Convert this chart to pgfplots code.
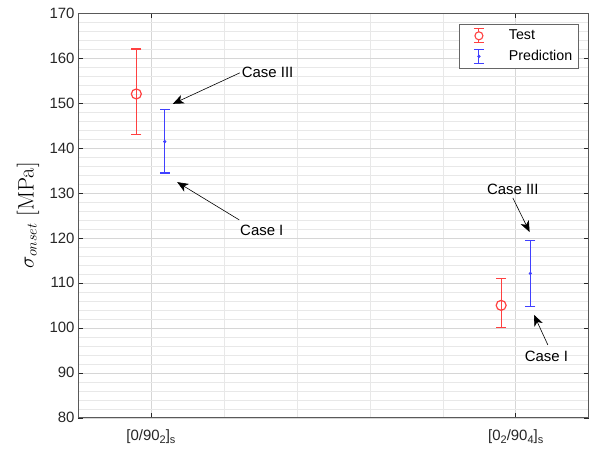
\documentclass[border=0pt]{standalone}
\usepackage{fontspec}
\setsansfont{Liberation Sans}
\usepackage{pgfplots}
\pgfplotsset{compat=1.18}
\usetikzlibrary{arrows.meta}
\definecolor{axgray}{gray}{0.15}
\definecolor{mred}{rgb}{1,0.25,0.25}
\definecolor{mblue}{rgb}{0.25,0.25,1}
\newcommand\sub[1]{\raisebox{-0.45ex}{\fontsize{11}{11}\selectfont #1}}
\begin{document}
\begin{tikzpicture}
\begin{axis}[
  scale only axis, width=511bp, height=405bp,
  xmin=0, xmax=7, ymin=80, ymax=170,
  xtick={1,6},
  xticklabels={{[0/90\sub{2}]\sub{s}},{[0\sub{2}/90\sub{4}]\sub{s}}},
  minor xtick={2,3,4,5},
  ytick={80,90,...,170},
  minor ytick={82,84,...,168},
  grid=both,
  major grid style={black!16, line width=0.5bp},
  minor grid style={black!9, line width=0.5bp},
  minor tick length=0pt,
  major tick length=5bp,
  tick align=inside,
  tick style={axgray, line width=0.5bp},
  axis line style={black!65, line width=0.6bp},
  /pgf/number format/assume math mode=true,
  ticklabel style={font=\sffamily\fontsize{15}{18}\selectfont, text=axgray},
  xticklabel style={yshift=-8bp},
  ylabel={$\sigma_{onset}$ [MPa]},
  ylabel style={font=\fontsize{22.5}{26}\selectfont, at={(axis description cs:-0.0978,0.5)}, anchor=center},
  clip=false,
  legend style={at={(0.980,0.973)}, anchor=north east, draw=black!60, fill=white,
    line width=0.5bp, font=\sffamily\fontsize{14.3}{17}\selectfont, text=black,
    inner xsep=4bp, inner ysep=4bp, row sep=5bp,
    nodes={inner xsep=2bp, inner ysep=2bp}},
  legend cell align=left,
]
% Test: error bars (lower, upper) and mean
\addplot[mred, line width=1.2bp, mark=-, mark size=5bp, forget plot] coordinates {(0.8,143) (0.8,162)};
\addplot[mred, line width=1.2bp, mark=-, mark size=5bp, forget plot] coordinates {(5.8,100) (5.8,111)};
\addplot[mred, line width=1.2bp, only marks, mark=o, mark size=5bp, mark options={fill=white}, forget plot]
  coordinates {(0.8,152) (5.8,105)};
% Prediction: error bars and mean
\addplot[mblue, line width=1.3bp, mark=-, mark size=5bp, forget plot] coordinates {(1.19,134.4) (1.19,148.5)};
\addplot[mblue, line width=1.3bp, mark=-, mark size=5bp, forget plot] coordinates {(6.2,104.8) (6.2,119.4)};
\addplot[mblue, only marks, mark=*, mark size=1.4bp, forget plot]
  coordinates {(1.19,141.4) (6.2,112.1)};
\addlegendimage{legend image code/.code={
    \path[draw=none, fill=none] (0,0) -- (44bp,0);
    \draw[mred, line width=1.1bp] (16bp,-7bp) -- (16bp,7bp);
    \draw[mred, line width=1.1bp] (11bp,-7bp) -- (21bp,-7bp);
    \draw[mred, line width=1.1bp] (11bp,7bp) -- (21bp,7bp);
    \draw[mred, line width=1.1bp, fill=white] (16bp,0) circle (4bp);
  }}
\addlegendentry{Test}
\addlegendimage{legend image code/.code={
    \path[draw=none, fill=none] (0,0) -- (44bp,0);
    \draw[mblue, line width=1.1bp] (16bp,-7bp) -- (16bp,7bp);
    \draw[mblue, line width=1.1bp] (11bp,-7bp) -- (21bp,-7bp);
    \draw[mblue, line width=1.1bp] (11bp,7bp) -- (21bp,7bp);
    \fill[mblue] (16bp,0) circle (1.4bp);
  }}
\addlegendentry{Prediction}
\coordinate (A) at (rel axis cs:0,0);
\coordinate (B) at (rel axis cs:1,1);
\begin{scope}[font=\sffamily\fontsize{15}{18}\selectfont]
\draw[black, line width=0.6bp, -{Stealth[length=11bp, width=9bp, inset=3bp]}] (axis cs:2.22,156.7) -- (axis cs:1.30,149.8);
\node[anchor=west, inner sep=1bp] at (axis cs:2.23,156.7) {Case III};
\draw[black, line width=0.6bp, -{Stealth[length=11bp, width=9bp, inset=3bp]}] (axis cs:2.21,124.0) -- (axis cs:1.36,132.4);
\node[inner sep=1bp] at (axis cs:2.52,121.6) {Case I};
\draw[black, line width=0.6bp, -{Stealth[length=11bp, width=9bp, inset=3bp]}] (axis cs:5.96,128.9) -- (axis cs:6.19,121.3);
\node[inner sep=1bp] at (axis cs:5.96,130.7) {Case III};
\draw[black, line width=0.6bp, -{Stealth[length=11bp, width=9bp, inset=3bp]}] (axis cs:6.44,96.2) -- (axis cs:6.25,102.9);
\node[inner sep=1bp] at (axis cs:6.42,93.6) {Case I};
\end{scope}
\end{axis}
\pgfresetboundingbox
\path ([shift={(-78bp,-32bp)}]A) rectangle ([shift={(0.3bp,13bp)}]B);
\end{tikzpicture}
\end{document}
